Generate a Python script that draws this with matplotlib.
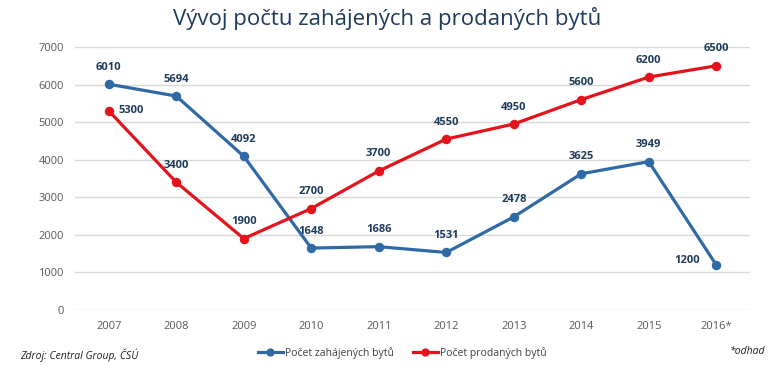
import matplotlib
matplotlib.use("Agg")
import matplotlib.pyplot as plt

years = ["2007", "2008", "2009", "2010", "2011", "2012", "2013", "2014", "2015", "2016*"]
zahajene = [6010, 5694, 4092, 1648, 1686, 1531, 2478, 3625, 3949, 1200]
prodane = [5300, 3400, 1900, 2700, 3700, 4550, 4950, 5600, 6200, 6500]
yticks = [0, 1000, 2000, 3000, 4000, 5000, 6000, 7000]

plt.rcParams['font.family'] = ['Open Sans', 'DejaVu Sans']

BLUE = "#2F6AA6"
RED = "#E5131B"
LBL = "#1F3B5C"

fig = plt.figure(figsize=(7.75, 3.65), dpi=100)
ax = fig.add_axes([75/775, 1-310/365, 675/775, 263/365])

x = list(range(len(years)))
l1, = ax.plot(x, zahajene, color=BLUE, lw=2.3, marker='o', ms=5.8, label="Počet zahájených bytů", zorder=3)
l2, = ax.plot(x, prodane, color=RED, lw=2.3, marker='o', ms=5.8, label="Počet prodaných bytů", zorder=3)

ax.set_xlim(-0.5, len(years) - 0.5)
ax.set_ylim(0, 7000)
ax.set_yticks(yticks)
ax.set_xticks(x)
ax.set_xticklabels(years)
ax.grid(axis='y', color="#D9D9D9", lw=1)
ax.set_axisbelow(True)
for s in ax.spines.values():
    s.set_visible(False)
ax.tick_params(length=0, labelsize=8, labelcolor="#595959", pad=8)
ax.tick_params(axis='y', pad=8)

for i, v in enumerate(zahajene):
    if i == len(zahajene) - 1:
        ax.annotate(str(v), (i, v), xytext=(-29, 4), textcoords='offset pixels',
                    ha='center', va='center', fontsize=8, fontweight='bold', color=LBL)
    else:
        ax.annotate(str(v), (i, v), xytext=(0, 17), textcoords='offset pixels',
                    ha='center', va='center', fontsize=8, fontweight='bold', color=LBL)

for i, v in enumerate(prodane):
    if i == 0:
        ax.annotate(str(v), (i, v), xytext=(22, 0), textcoords='offset pixels',
                    ha='center', va='center', fontsize=8, fontweight='bold', color=LBL)
    else:
        ax.annotate(str(v), (i, v), xytext=(0, 17), textcoords='offset pixels',
                    ha='center', va='center', fontsize=8, fontweight='bold', color=LBL)

fig.text(0.50, 1-18/365, "Vývoj počtu zahájených a prodaných bytů", ha='center', va='center',
         fontsize=16, color="#1F3B5C")

fig.legend(handles=[l1, l2], loc='center', bbox_to_anchor=(402/775, 1-353/365), ncol=2,
           frameon=False, fontsize=7.5, handlelength=2.4, columnspacing=1.8, handletextpad=0.2,
           labelcolor="#404040", markerscale=0.85)

fig.text(20/775, 1-355/365, "Zdroj: Central Group, ČSÚ", ha='left', va='center', fontsize=7.5,
         style='italic', color="#202020")
fig.text(765/775, 1-351/365, "*odhad", ha='right', va='center', fontsize=7.5,
         style='italic', color="#202020")

fig.savefig("out.png", dpi=100, facecolor='white')
